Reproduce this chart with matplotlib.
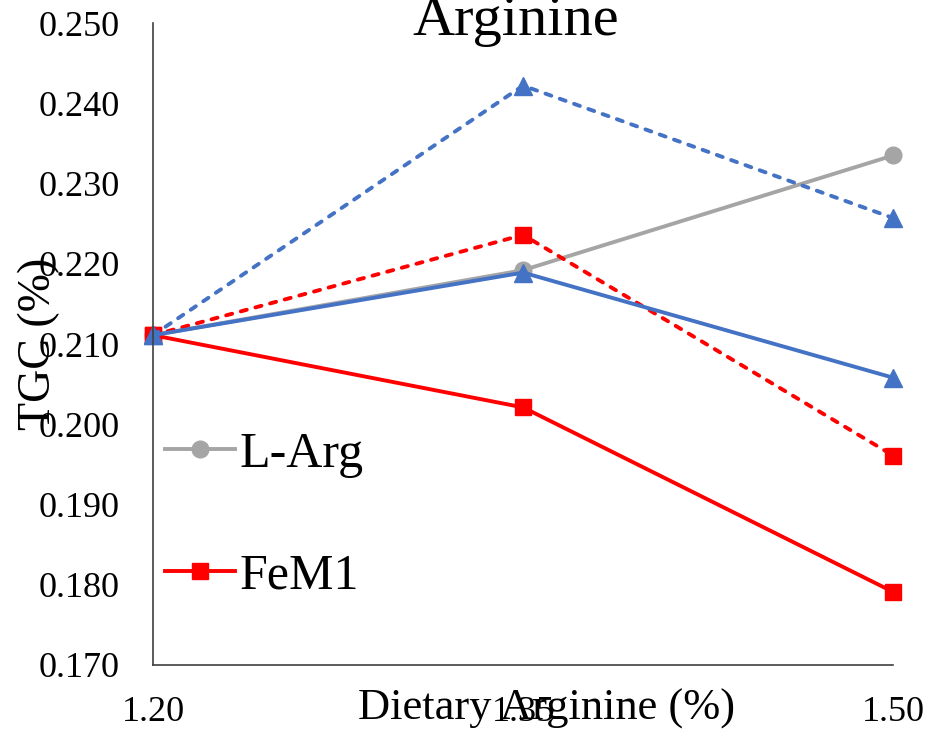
import matplotlib
matplotlib.use("Agg")
import matplotlib.pyplot as plt
from matplotlib.lines import Line2D

# Data
arginine_levels = [1.20, 1.35, 1.50]
tick_labels = ["1.20", "1.35", "1.50"]
l_arg = [0.2111, 0.2192, 0.2335]
fem1 = [0.2111, 0.2021, 0.1791]
fem1_dashed = [0.2111, 0.2236, 0.1961]
blue_solid = [0.2111, 0.2189, 0.2058]
blue_dashed = [0.2111, 0.2422, 0.2257]

GRAY = "#A5A5A5"
RED = "#FF0000"
BLUE = "#4472C4"

plt.rcParams["font.family"] = ["Liberation Serif", "DejaVu Serif"]

fig = plt.figure(figsize=(9.43, 7.43), dpi=100)
ax = fig.add_axes([0.1622, 0.105, 0.785, 0.864])

lw = 2.8
ms = 12
dash = (1.6, 2.3)

ax.plot(arginine_levels, l_arg, color=GRAY, lw=lw, marker="o", ms=ms, label="L-Arg")
ax.plot(arginine_levels, fem1, color=RED, lw=lw, marker="s", ms=11, label="FeM1")
ax.plot(arginine_levels, fem1_dashed, color=RED, lw=lw, marker="s", ms=11,
        dashes=dash, dash_capstyle="round")
ax.plot(arginine_levels, blue_solid, color=BLUE, lw=lw, marker="^", ms=13)
ax.plot(arginine_levels, blue_dashed, color=BLUE, lw=lw, marker="^", ms=13,
        dashes=dash, dash_capstyle="round")

for line in ax.lines:
    line.set_clip_on(False)

ax.set_xlim(1.20, 1.50)
ax.set_ylim(0.170, 0.250)
ax.set_xticks(arginine_levels)
ax.set_xticklabels(tick_labels)
ax.set_yticks([0.170 + 0.01 * i for i in range(9)])
ax.yaxis.set_major_formatter(matplotlib.ticker.FormatStrFormatter("%.3f"))

ax.tick_params(axis="both", length=0, labelsize=26)
ax.tick_params(axis="y", pad=24)
ax.tick_params(axis="x", pad=22)

for side in ["top", "right"]:
    ax.spines[side].set_visible(False)
for side in ["left", "bottom"]:
    ax.spines[side].set_color("#404040")
    ax.spines[side].set_linewidth(1.2)

ax.set_xlabel("Dietary Arginine (%)", fontsize=32)
ax.xaxis.set_label_coords(0.532, -0.036)
ax.set_ylabel("TGC (%)", fontsize=33)
ax.yaxis.set_label_coords(-0.125, 0.5)

ax.text(0.49, 0.981, "Arginine", transform=ax.transAxes, fontsize=42,
        ha="center", va="baseline")

handles = [
    Line2D([], [], color=GRAY, lw=lw, marker="o", ms=ms),
    Line2D([], [], color=RED, lw=lw, marker="s", ms=11),
]
ax.legend(handles, ["L-Arg", "FeM1"], loc="upper left",
          bbox_to_anchor=(0.016, 0.364), frameon=False, fontsize=36,
          handlelength=1.4, handletextpad=0.1, labelspacing=1.5,
          borderpad=0, borderaxespad=0)

fig.savefig("out.png", dpi=100)
